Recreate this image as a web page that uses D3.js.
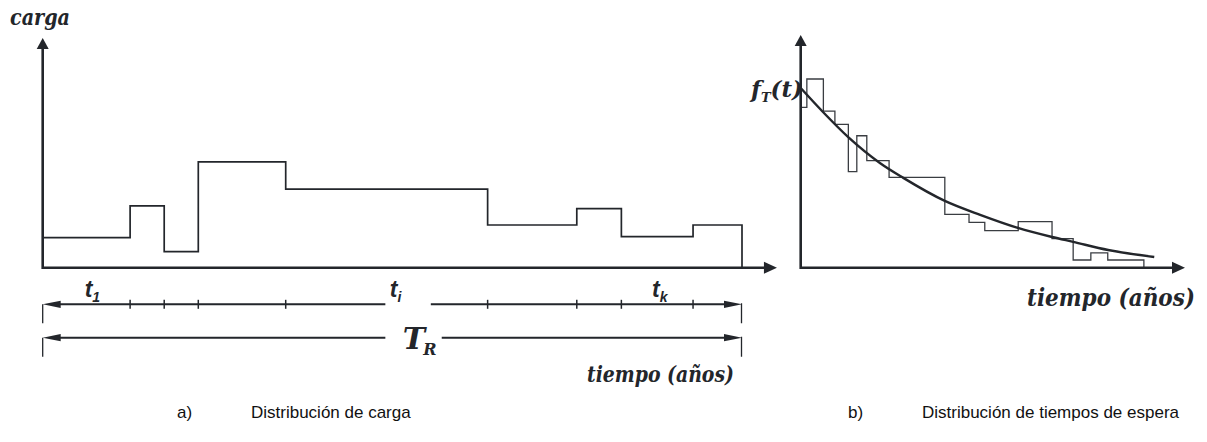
<!DOCTYPE html>
<html>
<head>
<meta charset="utf-8">
<script src="https://cdn.jsdelivr.net/npm/d3@7"></script>
<style>
  body { margin: 0; background: #fff; }
  .serif { font-family: "DejaVu Serif", serif; font-style: italic; font-weight: bold; fill: #23262b; }
  .sans  { font-family: "Liberation Sans", Arial, sans-serif; fill: #111; }
  .tlab  { font-family: "Liberation Sans", Arial, sans-serif; font-style: italic; font-weight: bold; fill: #23262b; }
</style>
</head>
<body>
<svg id="chart" width="1207" height="442"></svg>
<script>
// a) Distribución de carga: límites de los tramos (años) y carga de cada tramo
const loadBreaks = [0, 10, 13.9, 17.8, 27.8, 50.9, 61.1, 66.2, 74.4, 80];
const loadValues = [1.31, 2.69, 0.70, 4.61, 3.42, 1.86, 2.57, 1.35, 1.86];
// etiquetas t1, ti, tk (posición en años)
const tSubs = ['1', 'i', 'k'];
const tAt = [4.8, 39.7, 69.7];

// b) Distribución de tiempos de espera: histograma y curva f_T(t)
const waitBreaks = [0, 0.16, 0.59, 0.89, 1.24, 1.46, 1.72, 2.30, 3.75, 4.38, 4.79, 5.66, 6.54, 7.09, 7.55, 7.99, 8.93];
const waitFreq = [6.89, 8.11, 6.73, 6.16, 4.13, 5.67, 4.60, 3.88, 2.29, 1.95, 1.59, 1.98, 1.25, 0.33, 0.64, 0.33];
const curveT = [0, 0.58, 1.23, 2.06, 2.67, 3.75, 4.67, 5.65, 6.54, 7.09, 8.00, 9.20];
const curveF = [7.72, 6.69, 5.62, 4.50, 3.86, 2.87, 2.27, 1.71, 1.32, 1.11, 0.76, 0.46];

const ink = '#23262b';
const svg = d3.select('#chart');

// Escalas
const xLoad = d3.scaleLinear().domain([0, 80]).range([42.7, 742]);
const yLoad = d3.scaleLinear().domain([0, 10]).range([267.7, 38]);
const xWait = d3.scaleLinear().domain([0, 10]).range([800.7, 1185]);
const yWait = d3.scaleLinear().domain([0, 10]).range([267.7, 35]);

// Punta de flecha rellena
function arrowHead(g, x, y, dir, len, half) {
    let pts;
    if (dir === 'up') pts = [[x, y], [x - half, y + len], [x + half, y + len]];
    if (dir === 'right') pts = [[x, y], [x - len, y - half], [x - len, y + half]];
    if (dir === 'left') pts = [[x, y], [x + len, y - half], [x + len, y + half]];
    g.append('path').attr('d', 'M' + pts.join('L') + 'Z').attr('fill', ink);
}

function stepPath(breaks, values, x, y) {
    const pts = values.map((v, i) => [breaks[i], v]);
    const last = breaks[breaks.length - 1];
    pts.push([last, values[values.length - 1]], [last, 0]);
    return d3.line().x(d => x(d[0])).y(d => y(d[1])).curve(d3.curveStepAfter)(pts);
}

function axes(g, x, y, xEnd, yEnd) {
    g.append('path')
        .attr('d', `M${x(0)},${y(yEnd) + 8}V${y(0)}H${x(xEnd) - 8}`)
        .attr('fill', 'none').attr('stroke', ink).attr('stroke-width', 2.6);
    arrowHead(g, x(0), y(yEnd), 'up', 11, 6);
    arrowHead(g, x(xEnd), y(0), 'right', 13, 6);
}

// Texto serif estrecho: se escala en horizontal hasta el ancho pedido
function narrowLabel(g, txt, left, base, size, width) {
    const t = g.append('text').attr('class', 'serif').attr('font-size', size).text(txt);
    const k = width / t.node().getComputedTextLength();
    t.attr('transform', `translate(${left},${base}) scale(${k},1)`);
    return t;
}

// ---------- a) carga ----------
const gA = svg.append('g');
gA.append('path')
    .attr('d', stepPath(loadBreaks, loadValues, xLoad, yLoad))
    .attr('fill', 'none').attr('stroke', ink).attr('stroke-width', 1.7);
axes(gA, xLoad, yLoad, 84, 10);

narrowLabel(gA, 'carga', 10, 25, 23, 60);

// cotas t1 ... tk y T_R
const yDim1 = 304.3, yDim2 = 337.7;
function dimLine(g, yy, gapFrom, gapTo) {
    g.append('path')
        .attr('d', `M${xLoad(0) + 10},${yy}H${xLoad(gapFrom)}M${xLoad(gapTo)},${yy}H${xLoad(80) - 10}`)
        .attr('stroke', ink).attr('stroke-width', 2);
    arrowHead(g, xLoad(0), yy, 'left', 18, 3.6);
    arrowHead(g, xLoad(80), yy, 'right', 18, 3.6);
    g.append('path')
        .attr('d', `M${xLoad(0)},${yy}V${yy + 19}M${xLoad(80) - 0.5},${yy - 1}V${yy + 19}`)
        .attr('stroke', ink).attr('stroke-width', 1.3);
}
dimLine(gA, yDim1, 39.2, 44.4);
dimLine(gA, yDim2, 39.2, 45.65);

gA.selectAll('.tick')
    .data(loadBreaks.slice(1, -1))
    .enter().append('line')
    .attr('x1', d => xLoad(d)).attr('x2', d => xLoad(d))
    .attr('y1', yDim1 - 4.5).attr('y2', yDim1 + 4.5)
    .attr('stroke', ink).attr('stroke-width', 1.5);

tSubs.forEach((s, i) => {
    const t = gA.append('text').attr('class', 'tlab')
        .attr('x', xLoad(tAt[i])).attr('y', 297).attr('font-size', 23);
    t.append('tspan').text('t');
    t.append('tspan').attr('font-size', 14).attr('dy', 5).text(s);
});

const tr = gA.append('text').attr('class', 'serif')
    .attr('x', xLoad(41.2)).attr('y', 349).attr('font-size', 30);
tr.append('tspan').text('T');
tr.append('tspan').attr('font-size', 16).attr('dx', -2).attr('dy', 6).text('R');

narrowLabel(gA, 'tiempo (años)', 587, 382, 22, 147);

// ---------- b) tiempos de espera ----------
const gB = svg.append('g');
gB.append('path')
    .attr('d', stepPath(waitBreaks, waitFreq, xWait, yWait))
    .attr('fill', 'none').attr('stroke', '#3a3d42').attr('stroke-width', 1.3);
gB.append('path')
    .datum(curveT.map((t, i) => [t, curveF[i]]))
    .attr('d', d3.line().x(d => xWait(d[0])).y(d => yWait(d[1])).curve(d3.curveMonotoneX))
    .attr('fill', 'none').attr('stroke', ink).attr('stroke-width', 2.4);
axes(gB, xWait, yWait, 10, 10);

const ft = gB.append('text').attr('class', 'serif')
    .attr('x', 751).attr('y', 97).attr('font-size', 23);
ft.append('tspan').text('f');
ft.append('tspan').attr('font-size', 13).attr('dy', 5).text('T');
ft.append('tspan').attr('dy', -5).text('(t)');

narrowLabel(gB, 'tiempo (años)', 1027, 306, 25, 168);

// ---------- pies de figura ----------
const captions = [
    { tag: 'a)', text: 'Distribución de carga', x: 177 },
    { tag: 'b)', text: 'Distribución de tiempos de espera', x: 848 }
];
captions.forEach(c => {
    svg.append('text').attr('class', 'sans').attr('x', c.x).attr('y', 418).attr('font-size', 17).text(c.tag);
    svg.append('text').attr('class', 'sans').attr('x', c.x + 74).attr('y', 418).attr('font-size', 17).text(c.text);
});
</script>
</body>
</html>
